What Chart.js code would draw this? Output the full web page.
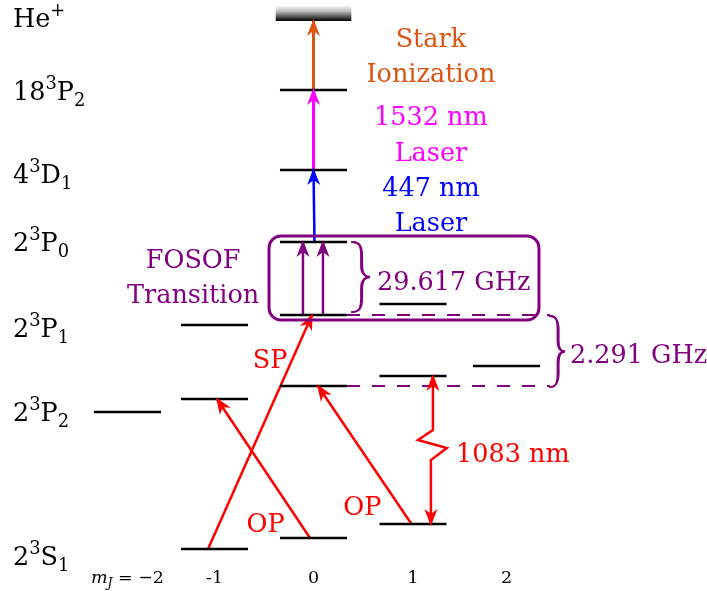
<!DOCTYPE html>
<html><head><meta charset="utf-8">
<script src="https://cdn.jsdelivr.net/npm/chart.js@4"></script>
<style>html,body{margin:0;padding:0;background:#fff;overflow:hidden}canvas{display:block}</style>
</head><body>
<canvas id="c" width="707" height="591"></canvas>
<script>
// ================= DATA =================
// magnetic sublevels m_J and tick labels under each column
const mJValues = [-2, -1, 0, 1, 2];
const mJTickLabels = ['m_J = −2', '-1', '0', '1', '2'];
const columnX = [-1.87, -0.995, 0, 1.0, 1.94];   // diagram position of each m_J column
const levelHalfWidth = 0.337;

// state names (left) and their label heights (energy units of the diagram)
const stateNames = ['He^+', '18^3P_2', '4^3D_1', '2^3P_0', '2^3P_1', '2^3P_2', '2^3S_1'];
const stateLabelE = [564, 491, 408, 340, 254, 170, 26];

// level energies per m_J column (arbitrary, not to scale); null = no sublevel
const E_18P2 = [null, null, 501, null, null];
const E_4D1  = [null, null, 421, null, null];
const E_2P0  = [null, null, 349, null, null];
const E_2P1  = [null, 266, 276, 287, null];
const E_2P2  = [179, 192, 205, 215, 225];
const E_2S1  = [null, 42, 53, 67, null];
const E_ion  = [570, 585];          // He+ continuum band (bottom, top)

// transitions: [x, E] points, in diagram units
const arrowStark = [[0, E_18P2[2]], [0, E_ion[0]]];
const arrow1532  = [[0, E_4D1[2]], [0, E_18P2[2]]];
const arrow447   = [[0.01, E_2P0[2]], [0, E_4D1[2]]];
const arrowFosofA = [[-0.106, E_2P1[2]], [-0.106, E_2P0[2]]];
const arrowFosofB = [[0.095, E_2P1[2]], [0.095, E_2P0[2]]];
const arrowSP  = [[-1.06, E_2S1[1]], [-0.015, E_2P1[2]]];
const arrowOP1 = [[-0.035, E_2S1[2]], [-0.97, E_2P2[1]]];
const arrowOP2 = [[0.985, E_2S1[3]], [0.045, E_2P2[2]]];
const arrow1083 = [[1.2, E_2P2[3]], [1.2, 161], [1.05, 151], [1.34, 143], [1.18, 131], [1.18, E_2S1[3]]];

// text annotations
const annText  = ['Stark', 'Ionization', '1532 nm', 'Laser', '447 nm', 'Laser', 'FOSOF', 'Transition', '29.617 GHz', '2.291 GHz', 'SP', 'OP', 'OP', '1083 nm'];
const annX     = [1.18, 1.18, 1.18, 1.18, 1.18, 1.18, -1.21, -1.21, 0.638, 2.578, -0.437, -0.482, 0.49, 1.432];
const annE     = [544, 509, 466, 430, 395, 360, 323, 288, 301, 228, 223, 59, 76, 129];

// ================= COLOURS / STYLE =================
const C_PURPLE = '#800080', C_RED = '#ff0000', C_MAG = '#ff00ff', C_BLUE = '#0000ff', C_ORANGE = '#dc5412';
const annColor = [C_ORANGE, C_ORANGE, C_MAG, C_MAG, C_BLUE, C_BLUE, C_PURPLE, C_PURPLE, C_PURPLE, C_PURPLE, C_RED, C_RED, C_RED, C_RED];
const annAlign = ['center','center','center','center','center','center','center','center','left','left','center','center','center','left'];
const FAMILY = '"DejaVu Serif", serif';
const BIG = 25.5, SMALL = 17.5;

// ================= DATASETS =================
const datasets = [];
function addLevels(arr) {
  arr.forEach((e, i) => {
    if (e === null) return;
    datasets.push({ data: [{x: columnX[i] - levelHalfWidth, y: e}, {x: columnX[i] + levelHalfWidth, y: e}],
      borderColor: '#000', borderWidth: 2.7, showLine: true, pointRadius: 0 });
  });
}
[E_18P2, E_4D1, E_2P0, E_2P1, E_2P2, E_2S1].forEach(addLevels);

// dashed reference lines for fine-structure splitting
[E_2P1[2], E_2P2[2]].forEach(e => datasets.push({
  data: [{x: columnX[2] + levelHalfWidth, y: e}, {x: 2.377, y: e}],
  borderColor: C_PURPLE, borderWidth: 2, borderDash: [13, 12], showLine: true, pointRadius: 0 }));

function addArrow(pts, color, heads, width) {
  datasets.push({ data: pts.map(p => ({x: p[0], y: p[1]})), borderColor: color, backgroundColor: color,
    borderWidth: width || 2.5, showLine: true, pointRadius: 0, arrowHeads: heads, borderJoinStyle: 'miter' });
}
addArrow(arrowStark, C_ORANGE, 'end', 3);
addArrow(arrow1532, C_MAG, 'end', 3);
addArrow(arrow447, C_BLUE, 'end', 2.5);
addArrow(arrowFosofA, C_PURPLE, 'end', 2.5);
addArrow(arrowFosofB, C_PURPLE, 'end', 2.5);
addArrow(arrowSP, C_RED, 'end', 2.5);
addArrow(arrowOP1, C_RED, 'end', 2.5);
addArrow(arrowOP2, C_RED, 'end', 2.5);
addArrow(arrow1083, C_RED, 'both', 2.5);

// ================= DRAWING HELPERS =================
function arrowHead(ctx, tip, from, color) {
  const len = 17, hw = 6.5, inset = 5, ext = 2;
  const dx = tip.x - from.x, dy = tip.y - from.y, L = Math.hypot(dx, dy);
  const ux = dx / L, uy = dy / L, px = -uy, py = ux;
  const tx = tip.x + ux * ext, ty = tip.y + uy * ext;
  const bx = tx - ux * len, by = ty - uy * len;
  ctx.beginPath();
  ctx.moveTo(tx, ty);
  ctx.lineTo(bx + px * hw, by + py * hw);
  ctx.lineTo(tx - ux * (len - inset), ty - uy * (len - inset));
  ctx.lineTo(bx - px * hw, by - py * hw);
  ctx.closePath();
  ctx.fillStyle = color; ctx.fill();
}
// curly brace opening to the left, tip pointing right
function brace(ctx, x0, yTop, yBot, w) {
  const H = yBot - yTop, ym = (yTop + yBot) / 2;
  const path = (off) => {
    const xa = x0 + w * 0.5 + off;
    ctx.moveTo(x0, yTop);
    ctx.bezierCurveTo(x0 + w * 0.42, yTop, xa, yTop + H * 0.06, xa, yTop + H * 0.2);
    ctx.lineTo(xa, ym - H * 0.16);
    ctx.bezierCurveTo(xa, ym - H * 0.04, x0 + w * 0.75, ym, x0 + w, ym);
    ctx.bezierCurveTo(x0 + w * 0.75, ym, xa, ym + H * 0.04, xa, ym + H * 0.16);
    ctx.lineTo(xa, yBot - H * 0.2);
    ctx.bezierCurveTo(xa, yBot - H * 0.06, x0 + w * 0.42, yBot, x0, yBot);
  };
  ctx.beginPath(); path(0); ctx.lineWidth = 1.8; ctx.stroke();
  ctx.beginPath(); path(1.2); ctx.lineWidth = 1.8; ctx.stroke();
}
function drawRich(ctx, s, x, y, size, color, align, italicLetters) {
  const parts = []; let i = 0;
  while (i < s.length) {
    const c = s[i];
    if (c === '^' || c === '_') { parts.push({t: s[i + 1], mode: c === '^' ? 'sup' : 'sub'}); i += 2; }
    else { parts.push({t: c, mode: ''}); i++; }
  }
  const fontFor = p => {
    const sz = p.mode ? size * 0.7 : size;
    const it = italicLetters && /[A-Za-z]/.test(p.t) ? 'italic ' : '';
    return it + sz + 'px ' + FAMILY;
  };
  let w = 0;
  parts.forEach(p => { ctx.font = fontFor(p); p.w = ctx.measureText(p.t).width; w += p.w; });
  let cx = align === 'center' ? x - w / 2 : align === 'right' ? x - w : x;
  ctx.fillStyle = color; ctx.textBaseline = 'alphabetic'; ctx.textAlign = 'left';
  parts.forEach(p => {
    ctx.font = fontFor(p);
    const dy = p.mode === 'sup' ? -size * 0.45 : p.mode === 'sub' ? size * 0.22 : 0;
    ctx.fillText(p.t, cx, y + dy); cx += p.w;
  });
}

const diagramPlugin = {
  id: 'diagram',
  beforeDatasetsDraw(chart) {
    const ctx = chart.ctx, xs = chart.scales.x, ys = chart.scales.y;
    // He+ continuum band with gradient
    const x1 = xs.getPixelForValue(columnX[2] - 0.38), x2 = xs.getPixelForValue(columnX[2] + 0.38);
    const yb = ys.getPixelForValue(E_ion[0]), yt = ys.getPixelForValue(E_ion[1]);
    const g = ctx.createLinearGradient(0, yt, 0, yb);
    g.addColorStop(0, '#f4f4f4'); g.addColorStop(0.35, '#bdbdbd'); g.addColorStop(1, '#000');
    ctx.save(); ctx.fillStyle = g; ctx.fillRect(x1, yt, x2 - x1, yb - yt); ctx.restore();
  },
  afterDatasetsDraw(chart) {
    const ctx = chart.ctx, xs = chart.scales.x, ys = chart.scales.y;
    ctx.save();
    // arrow heads
    chart.data.datasets.forEach((ds, i) => {
      if (!ds.arrowHeads) return;
      const pts = chart.getDatasetMeta(i).data;
      const n = pts.length;
      arrowHead(ctx, pts[n - 1], pts[n - 2], ds.borderColor);
      if (ds.arrowHeads === 'both') arrowHead(ctx, pts[0], pts[1], ds.borderColor);
    });
    // FOSOF rounded box
    const bl = xs.getPixelForValue(-0.447), br = xs.getPixelForValue(2.266);
    const bt = ys.getPixelForValue(355), bb = ys.getPixelForValue(271), r = 12;
    ctx.strokeStyle = C_PURPLE; ctx.lineWidth = 3;
    ctx.beginPath();
    ctx.moveTo(bl + r, bt); ctx.lineTo(br - r, bt); ctx.arcTo(br, bt, br, bt + r, r);
    ctx.lineTo(br, bb - r); ctx.arcTo(br, bb, br - r, bb, r);
    ctx.lineTo(bl + r, bb); ctx.arcTo(bl, bb, bl, bb - r, r);
    ctx.lineTo(bl, bt + r); ctx.arcTo(bl, bt, bl + r, bt, r);
    ctx.closePath(); ctx.stroke();
    // braces
    ctx.lineCap = 'round';
    brace(ctx, xs.getPixelForValue(0.387), ys.getPixelForValue(E_2P0[2]), ys.getPixelForValue(E_2P1[2]) - 3, 18);
    brace(ctx, xs.getPixelForValue(2.377), ys.getPixelForValue(E_2P1[2]) + 1, ys.getPixelForValue(E_2P2[2]) + 1, 15);
    // state labels
    const lx = xs.getPixelForValue(-3.02);
    stateNames.forEach((s, i) => drawRich(ctx, s, lx, ys.getPixelForValue(stateLabelE[i]), BIG, '#000', 'left', false));
    // annotations
    annText.forEach((t, i) => drawRich(ctx, t, xs.getPixelForValue(annX[i]), ys.getPixelForValue(annE[i]), BIG, annColor[i], annAlign[i], false));
    // m_J tick labels
    mJValues.forEach((m, i) => drawRich(ctx, mJTickLabels[i], xs.getPixelForValue(columnX[i]), ys.getPixelForValue(8), SMALL, '#000', 'center', true));
    ctx.restore();
  }
};

new Chart(document.getElementById('c'), {
  type: 'scatter',
  data: { datasets },
  options: {
    responsive: false, animation: false, devicePixelRatio: 1,
    layout: { padding: 0 },
    plugins: { legend: { display: false }, tooltip: { enabled: false } },
    elements: { line: { tension: 0 }, point: { radius: 0 } },
    scales: {
      x: { type: 'linear', min: -3.151, max: 3.955, display: false },
      y: { type: 'linear', min: 0, max: 591, display: false }
    }
  },
  plugins: [diagramPlugin]
});
</script>
</body></html>
